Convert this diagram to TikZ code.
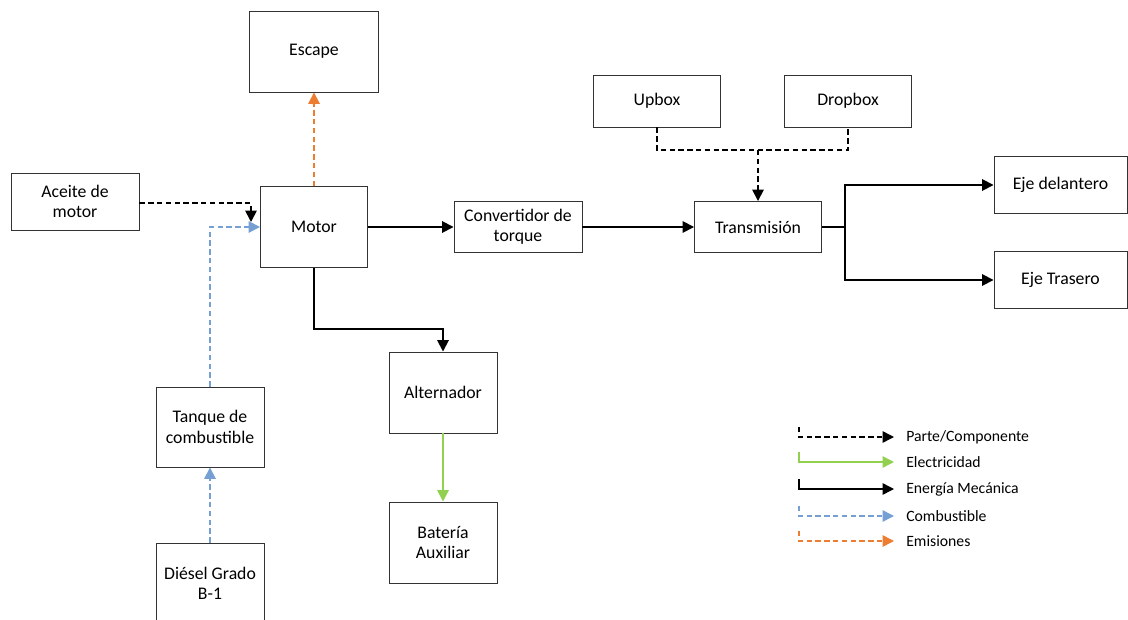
\documentclass[tikz,border=0pt]{standalone}
\usepackage{fontspec}
\setmainfont{Carlito}
\usetikzlibrary{arrows.meta}
\definecolor{elec}{RGB}{146,208,80}
\definecolor{fuel}{RGB}{118,160,212}
\definecolor{emis}{RGB}{237,125,49}
\begin{document}
\begin{tikzpicture}[x=0.75pt,y=-0.75pt,
  box/.style={draw=black!80,line width=0.7pt,inner sep=0pt,align=center,
    font=\fontsize{13.3}{15.3}\selectfont},
  link/.style={line width=1.3pt,-{Triangle[length=8.5pt,width=8.5pt]}},
  dsh/.style={dash pattern=on 4pt off 2.6pt},
  partlink/.style={link,dsh,black},
  mechlink/.style={link,black},
  eleclink/.style={link,elec},
  fuellink/.style={link,dsh,fuel},
  emislink/.style={link,dsh,emis},
  legtext/.style={anchor=west,inner sep=0pt,font=\fontsize{11.8}{13}\selectfont}]
\useasboundingbox (0,0) rectangle (1128,620);

% components
\node[box,minimum width={129*0.75pt},minimum height={81*0.75pt}] (esc) at (314,51.5) {Escape};
\node[box,minimum width={128*0.75pt},minimum height={57*0.75pt}] (oil) at (75,201.5) {Aceite de\\motor};
\node[box,minimum width={107*0.75pt},minimum height={81*0.75pt}] (mot) at (314,227) {Motor};
\node[box,minimum width={128*0.75pt},minimum height={51*0.75pt}] (conv) at (518,227) {Convertidor de\\torque};
\node[box,minimum width={127*0.75pt},minimum height={52*0.75pt}] (up) at (657,101) {Upbox};
\node[box,minimum width={127*0.75pt},minimum height={52*0.75pt}] (down) at (848,101) {Dropbox};
\node[box,minimum width={127*0.75pt},minimum height={51*0.75pt}] (trans) at (758,227) {Transmisión};
\node[box,minimum width={133*0.75pt},minimum height={57*0.75pt}] (front) at (1060.5,185) {Eje delantero};
\node[box,minimum width={133*0.75pt},minimum height={57*0.75pt}] (rear) at (1060.5,280) {Eje Trasero};
\node[box,minimum width={108*0.75pt},minimum height={81*0.75pt}] (alt) at (443,392.5) {Alternador};
\node[box,minimum width={108*0.75pt},minimum height={81*0.75pt}] (bat) at (443,542.5) {Batería\\Auxiliar};
\node[box,minimum width={108*0.75pt},minimum height={80*0.75pt}] (tank) at (210,427) {Tanque de\\combustible};
\node[box,minimum width={108*0.75pt},minimum height={81*0.75pt}] (dies) at (210,583.5) {Diésel Grado\\B-1};

% connectors
\draw[emislink] (mot.north) -- (esc.south);
\draw[partlink] (oil.east |- 0,203) -| (251,222);
\draw[fuellink] (tank.north) |- (mot.west |- 0,227);
\draw[mechlink] (mot) -- (conv);
\draw[mechlink] (conv) -- (trans);
\coordinate (jn) at (758,150);
\draw[dsh,line width=1.3pt] (up.south) |- (jn) -| (down.south);
\draw[partlink] (jn) -- (trans.north);
\coordinate (split) at (845,227);
\draw[line width=1.3pt] (trans.east) -- (split);
\draw[mechlink] (split) |- (front.west);
\draw[mechlink] (split) |- (rear.west);
\draw[mechlink] (mot.south) |- (443,329) -- (alt.north);
\draw[eleclink] (alt) -- (bat);
\draw[fuellink] (dies) -- (tank);

% legend
\foreach \y/\sty/\txt [count=\i] in {437/partlink/{Parte/Componente},462/eleclink/Electricidad,
    489/mechlink/Energía Mecánica,516/fuellink/Combustible,541/emislink/Emisiones}{
  \coordinate (l\i) at (799,\y-10);
  \coordinate (r\i) at (894,\y);
  \draw[\sty,line width=1.1pt] (l\i) |- (r\i);
  \node[legtext] (t\i) at (906,\y) {\txt};
}
\end{tikzpicture}
\end{document}
